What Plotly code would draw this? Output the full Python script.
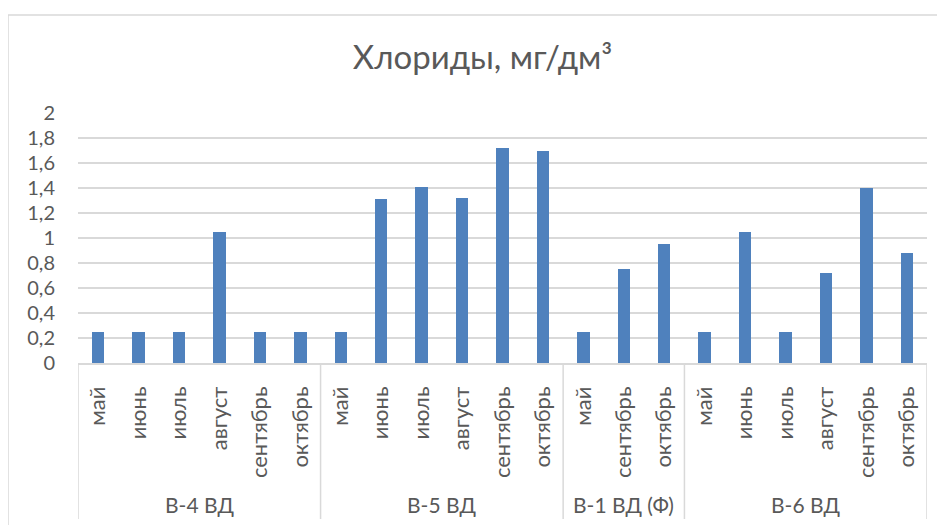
import plotly.graph_objects as go

# ---- data ----
title_text = "Хлориды, мг/дм³"
group_names = ["В-4 ВД", "В-5 ВД", "В-1 ВД (Ф)", "В-6 ВД"]
months_b4 = ["май", "июнь", "июль", "август", "сентябрь", "октябрь"]
values_b4 = [0.25, 0.25, 0.25, 1.05, 0.25, 0.25]
months_b5 = ["май", "июнь", "июль", "август", "сентябрь", "октябрь"]
values_b5 = [0.25, 1.31, 1.41, 1.32, 1.72, 1.70]
months_b1 = ["май", "сентябрь", "октябрь"]
values_b1 = [0.25, 0.75, 0.95]
months_b6 = ["май", "июнь", "июль", "август", "сентябрь", "октябрь"]
values_b6 = [0.25, 1.05, 0.25, 0.72, 1.40, 0.88]
y_ticks = [0, 0.2, 0.4, 0.6, 0.8, 1.0, 1.2, 1.4, 1.6, 1.8, 2.0]

group_months = [months_b4, months_b5, months_b1, months_b6]
group_values = [values_b4, values_b5, values_b1, values_b6]

# ---- build ----
months, values, x_idx = [], [], []
boundaries = [-0.5]
centers = []
i = 0
for gm, gv in zip(group_months, group_values):
    start = i
    for m, v in zip(gm, gv):
        months.append(m)
        values.append(v)
        x_idx.append(i)
        i += 1
    centers.append((start + i - 1) / 2)
    boundaries.append(i - 0.5)

TEXT = "#595959"
GRID = "#D9D9D9"
FONT = "Lato"

OFF = 8  # page body margin
W, H = 945, 525
# target plot area in page pixels: x 78..927, y 113..363
PL, PR, PT, PB = 78, 927, 113, 363
PW, PH = PR - PL, PB - PT
ML, MT = PL - OFF, PT - OFF
MR = W - ML - PW
MB = H - MT - PH

def py(px):
    return (PB - px) / PH

def pxr(px):
    return (px - PL) / PW

fig = go.Figure()
fig.add_trace(go.Bar(
    x=x_idx, y=values, width=0.31,
    marker=dict(color="#4F81BD", line=dict(width=0)),
    hoverinfo="y",
))

shapes = []
for b in boundaries:
    shapes.append(dict(type="line", xref="x", yref="paper", x0=b, x1=b,
                       y0=0, y1=py(519), line=dict(color=GRID, width=1.5)))
# chart border
shapes.append(dict(type="rect", xref="paper", yref="paper",
                   x0=pxr(8), x1=pxr(960), y0=py(540), y1=py(15),
                   line=dict(color=GRID, width=1.5), fillcolor="rgba(0,0,0,0)"))

annotations = []
for name, c in zip(group_names, centers):
    annotations.append(dict(text=name, x=c, xref="x", y=py(504), yref="paper",
                            showarrow=False, xanchor="center", yanchor="middle",
                            font=dict(family=FONT, size=21, color=TEXT)))

fig.update_layout(
    width=W, height=H,
    margin=dict(l=ML, r=MR, t=MT, b=MB, pad=0),
    paper_bgcolor="white", plot_bgcolor="white",
    separators=", ",
    showlegend=False,
    title=dict(text=title_text, x=(482.5 - OFF) / W, xref="container", xanchor="center",
               y=1 - (57 - OFF) / H, yref="container", yanchor="middle",
               font=dict(family=FONT, size=33, color=TEXT)),
    xaxis=dict(range=[-0.5, len(values) - 0.5], tickmode="array",
               tickvals=x_idx, ticktext=months, tickangle=-90,
               showgrid=False, zeroline=False, showline=True,
               linecolor=GRID, linewidth=1.5, ticks="",
               ticklabelstandoff=13,
               tickfont=dict(family=FONT, size=22, color=TEXT)),
    yaxis=dict(range=[0, 2], tickmode="array", tickvals=y_ticks,
               showgrid=True, gridcolor=GRID, gridwidth=1.5,
               zeroline=False, showline=False, ticks="",
               ticklabelstandoff=22,
               tickfont=dict(family=FONT, size=20, color=TEXT)),
    shapes=shapes,
    annotations=annotations,
    bargap=0,
)

fig.write_html("out.html")
